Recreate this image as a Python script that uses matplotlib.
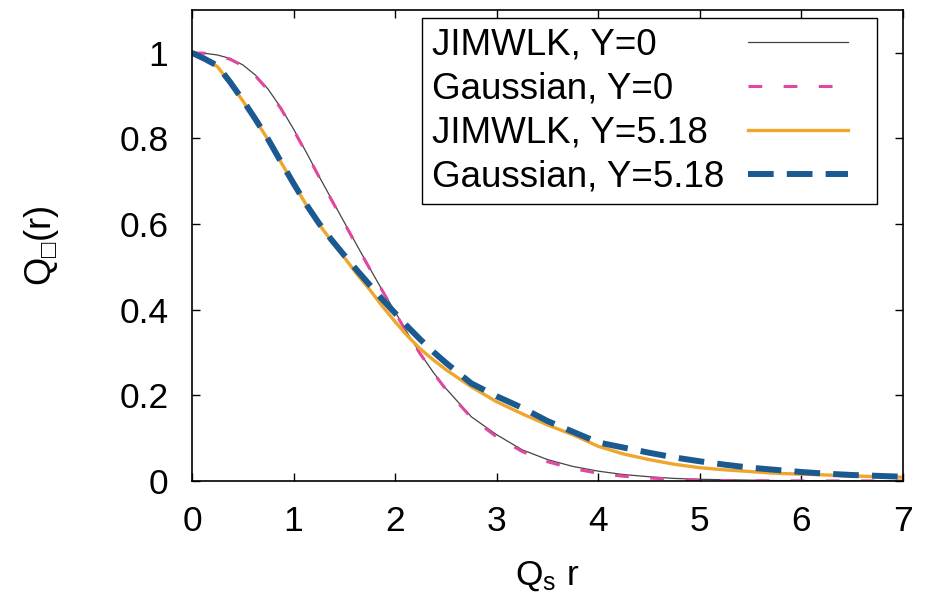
import matplotlib
matplotlib.use('Agg')
import matplotlib.pyplot as plt
from matplotlib.offsetbox import HPacker, DrawingArea
import numpy as np

plt.rcParams['font.family'] = ['Liberation Sans', 'DejaVu Sans']
plt.rcParams['mathtext.fontset'] = 'custom'
plt.rcParams['mathtext.rm'] = 'Liberation Sans'
plt.rcParams['mathtext.default'] = 'regular'

# Q_s r sample points (finer where curves bend)
qs_r = [0.0, 0.125, 0.25, 0.375, 0.5, 0.625, 0.75, 0.875, 1.0, 1.125, 1.25,
        1.375, 1.5, 1.625, 1.75, 1.875, 2.0, 2.125, 2.25, 2.375, 2.5,
        2.75, 3.0, 3.25, 3.5, 3.75, 4.0, 4.25, 4.5, 4.75, 5.0, 5.25, 5.5,
        5.75, 6.0, 6.25, 6.5, 6.75, 7.0]

jimwlk_y0 = [1.000, 0.999, 0.995, 0.987, 0.972, 0.948, 0.915, 0.872, 0.822,
             0.768, 0.712, 0.658, 0.604, 0.550, 0.497, 0.445, 0.395, 0.344,
             0.297, 0.254, 0.216,
             0.150, 0.108, 0.073, 0.050, 0.034, 0.023, 0.015, 0.010, 0.006,
             0.004, 0.003, 0.002, 0.001, 0.001, 0.0005, 0.0003, 0.0002, 0.0001]

gauss_y0 = [1.000, 0.999, 0.994, 0.985, 0.970, 0.946, 0.913, 0.870, 0.820,
            0.766, 0.711, 0.656, 0.602, 0.549, 0.496, 0.444, 0.393, 0.343,
            0.296, 0.253, 0.214,
            0.148, 0.103, 0.069, 0.045, 0.029, 0.018, 0.011, 0.007, 0.004,
            0.002, 0.001, 0.0007, 0.0004, 0.0002, 0.0001, 0.0001, 0.0, 0.0]

jimwlk_y518 = [1.000, 0.985, 0.968, 0.930, 0.888, 0.843, 0.797, 0.745, 0.695,
               0.645, 0.600, 0.560, 0.522, 0.483, 0.447, 0.408, 0.372, 0.338,
               0.308, 0.283, 0.260,
               0.220, 0.185, 0.157, 0.131, 0.108, 0.081, 0.063, 0.050, 0.039,
               0.031, 0.026, 0.022, 0.018, 0.016, 0.014, 0.012, 0.010, 0.009]

gauss_y518 = [1.000, 0.986, 0.970, 0.932, 0.890, 0.845, 0.798, 0.746, 0.695,
              0.646, 0.602, 0.563, 0.527, 0.492, 0.458, 0.424, 0.392, 0.360,
              0.330, 0.302, 0.276,
              0.228, 0.198, 0.171, 0.140, 0.115, 0.090, 0.078, 0.066, 0.055,
              0.046, 0.038, 0.031, 0.026, 0.021, 0.017, 0.014, 0.012, 0.010]

labels = ['JIMWLK, Y=0', 'Gaussian, Y=0', 'JIMWLK, Y=5.18', 'Gaussian, Y=5.18']

fig = plt.figure(figsize=(9.26, 5.97), dpi=100)
ax = fig.add_axes([0.2073, 0.1943, 0.7679, 0.7889])

ax.plot(qs_r, jimwlk_y0, color='#444444', lw=0.9, label=labels[0])
ax.plot(qs_r, gauss_y0, color='#e0479e', lw=2.2, dashes=(4.5, 7), label=labels[1])
ax.plot(qs_r, jimwlk_y518, color='#eea62c', lw=2.4, label=labels[2])
ax.plot(qs_r, gauss_y518, color='#1b5a90', lw=4.3, dashes=(4.3, 2.2), label=labels[3])

ax.set_xlim(0, 7)
ax.set_ylim(0, 1.1)
ax.set_xticks(range(8))
ax.set_yticks([0, 0.2, 0.4, 0.6, 0.8, 1])
ax.set_yticklabels(['0', '0.2', '0.4', '0.6', '0.8', '1'])
ax.tick_params(direction='in', length=6, width=1, top=True, right=True,
               labelsize=25.5)
ax.tick_params(axis='x', pad=17)
ax.tick_params(axis='y', pad=17)
for s in ax.spines.values():
    s.set_linewidth(1.2)

ax.set_xlabel(r'Q$_\mathregular{s}$ r', fontsize=25.5, labelpad=16)
ax.set_ylabel('Q$_{\u25a1}$(r)', fontsize=26, labelpad=42)

leg = ax.legend(loc='upper right', bbox_to_anchor=(0.9634, 0.983), fontsize=26.5,
                markerfirst=False, handlelength=2.7, handletextpad=1.0,
                fancybox=False, framealpha=1, edgecolor='black',
                borderpad=0.27, labelspacing=0.24, borderaxespad=0)
leg.get_frame().set_linewidth(1.0)

# gnuplot-like key: text left aligned, samples right aligned with a gap
col = leg._legend_handle_box.get_children()[0]
col.width = 435
for row in col.get_children():
    txt, handle = row.get_children()
    row._children = [txt, HPacker(children=[handle, DrawingArea(14, 1)],
                                  pad=0, sep=0)]
    row.mode = 'expand'
leg._legend_box.set_figure(fig)

fig.savefig('out.png', dpi=100)
